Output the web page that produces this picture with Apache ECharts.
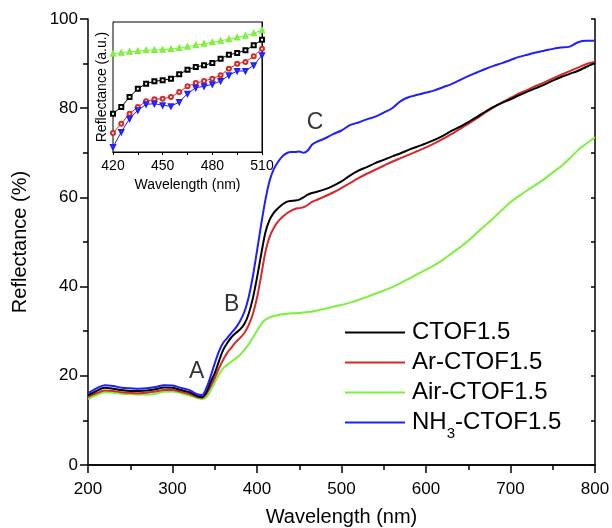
<!DOCTYPE html>
<html><head><meta charset="utf-8">
<script src="https://cdn.jsdelivr.net/npm/echarts@6/dist/echarts.min.js"></script>
<style>html,body{margin:0;padding:0;background:#fff}#c{width:612px;height:528px}</style>
</head><body><div id="c"></div>
<script>
const wavelength = [200,210,220,230,240,250,260,270,280,290,300,310,320,330,
 335,340,345,350,355,360,365,370,375,380,385,390,395,400,405,410,415,420,425,430,435,440,445,450,455,460,465,470,
 480,490,500,510,520,530,540,550,560,570,580,590,600,610,620,630,640,650,660,670,680,690,700,710,720,730,740,750,760,770,780,790,800];
const ctof = [15.6,16.6,17.3,17.1,16.8,16.6,16.6,16.7,17.0,17.4,17.3,16.8,16.3,15.4,
 15.2,16.3,18.5,20.6,23.3,25.8,27.4,28.7,29.6,30.4,31.6,33.8,37.3,42.0,47.3,52.2,55.0,56.6,57.6,58.4,59.0,59.2,59.3,59.5,60.0,60.6,61.0,61.2,
 61.8,62.6,63.6,64.9,66.0,66.8,67.7,68.4,69.2,69.9,70.7,71.4,72.1,72.9,73.8,74.9,75.8,76.9,78.0,79.2,80.3,81.2,82.0,82.9,83.7,84.5,85.3,86.2,87.0,87.7,88.4,89.3,90.1];
const arCtof = [15.2,16.1,16.7,16.6,16.3,16.2,16.1,16.2,16.5,16.8,16.8,16.4,15.9,15.2,
 15.1,15.9,17.6,19.5,21.7,23.6,25.2,26.4,27.6,28.5,29.6,31.3,33.8,37.5,42.5,47.8,51.2,53.2,54.6,55.6,56.4,57.0,57.4,57.6,57.8,58.3,59.0,59.4,
 60.2,61.1,62.1,63.2,64.3,65.3,66.2,67.1,68.0,68.8,69.6,70.4,71.2,72.1,73.1,74.2,75.3,76.5,77.7,79.0,80.2,81.3,82.3,83.3,84.1,85.0,85.8,86.7,87.5,88.3,89.1,89.9,90.4];
const airCtof = [14.8,15.7,16.3,16.2,16.0,15.9,15.8,15.8,16.0,16.4,16.5,16.1,15.6,15.0,
 14.8,15.2,16.6,18.5,20.3,21.7,22.5,23.2,23.9,24.7,25.8,27.0,28.5,30.1,31.6,32.6,33.1,33.4,33.6,33.8,33.9,34.0,34.0,34.1,34.2,34.3,34.4,34.6,
 35.0,35.5,35.9,36.4,37.0,37.7,38.4,39.1,39.9,40.8,41.8,42.8,43.8,44.8,46.0,47.4,48.8,50.3,52.0,53.7,55.4,57.2,58.9,60.3,61.6,62.8,64.1,65.6,67.0,68.7,70.6,72.1,73.5];
const nh3Ctof = [16.1,17.2,17.9,17.7,17.3,17.2,17.1,17.2,17.5,17.9,17.8,17.3,16.8,15.8,
 15.7,17.2,19.8,22.8,25.5,27.4,28.5,29.7,30.8,32.3,34.3,37.5,42.2,48.0,54.0,59.5,63.8,66.4,68.0,69.2,69.9,70.2,70.2,70.3,70.0,70.5,71.8,72.4,
 73.2,74.2,75.0,76.2,76.8,77.5,78.1,79.0,80.0,81.6,82.5,83.0,83.5,84.0,84.7,85.4,86.3,87.2,88.0,88.8,89.5,90.1,90.8,91.5,92.0,92.5,92.9,93.3,93.6,93.8,94.8,95.1,95.1];

const insetWl = [420,425,430,435,440,445,450,455,460,465,470,475,480,485,490,495,500,505,510];
const insetCtof = [38.3,45,55,63.3,68.3,70.7,71.7,73.3,77.7,82.3,85,86.7,89,93.3,97.3,99,101.7,106.7,112.3];
const insetAr = [19,28.3,38.3,45,50.7,52.7,53.3,55,60,65.7,69,71,73.3,76.7,83.3,88.3,90,95.7,103.3];
const insetAir = [98.3,99.3,100.3,101,101.7,102,102.3,103,104,105.3,106.7,108.2,109.7,111.2,112.7,114.5,116.3,118.8,121.7];
const insetNh3 = [5,20,33.3,41.7,47.7,48.3,46.7,45.7,50,58.3,64.3,65.7,67.7,71,76.7,81,81,86.7,96.7];

const seriesNames = ['CTOF1.5','Ar-CTOF1.5','Air-CTOF1.5','NH3-CTOF1.5'];
const annotX = [328.6, 370, 468.6];
const annotY = [20.9, 35.9, 76.7];
const annotText = ['A','B','C'];

const FONT = 'Liberation Sans, Arial, sans-serif';
const colors = ['#000000','#d42a2a','#7cf03a','#1e1eff'];
const zip = (xs, ys) => xs.map((x,i)=>[x, ys[i]]);
const mainData = [ctof, arCtof, airCtof, nh3Ctof];
const insetData = [insetCtof, insetAr, insetAir, insetNh3];
const insetSymbols = ['emptyRect','emptyCircle','emptyTriangle','emptyTriangle'];
const zOrder = [3,2,1,4];

const series = [];
mainData.forEach((d,i)=>{
  series.push({name: seriesNames[i], type:'line', xAxisIndex:0, yAxisIndex:0,
    data: zip(wavelength, d), symbol:'none', showSymbol:false, smooth:0.3,
    lineStyle:{color:colors[i], width:2}, itemStyle:{color:colors[i]}, z: zOrder[i]});
});
insetData.forEach((d,i)=>{
  series.push({name: 'inset-'+seriesNames[i], type:'line', xAxisIndex:2, yAxisIndex:2,
    data: zip(insetWl, d), symbol: insetSymbols[i], symbolSize:4, symbolRotate: i===3?180:0,
    showSymbol:true, lineStyle:{color:colors[i], width:1}, itemStyle:{color:colors[i], borderWidth:1}, z: 10+zOrder[i]});
});
series.push({type:'scatter', xAxisIndex:0, yAxisIndex:0, symbolSize:0, z:20,
  data: annotX.map((x,i)=>[x, annotY[i], annotText[i]]),
  label:{show:true, position:'inside', formatter: p=>p.data[2], color:'#000', fontSize:23, fontFamily:FONT}});

const axisLineStyle = {lineStyle:{color:'#000', width:1.5}};
const chart = echarts.init(document.getElementById('c'), null, {renderer:'canvas'});
chart.setOption({
  animation:false,
  backgroundColor:'#fff',
  textStyle:{fontFamily:FONT},
  grid:[
    {left:88, right:17, top:19, bottom:63, outerBoundsMode:'none', containLabel:false},
    {left:113, top:22, width:149, height:130, show:true, backgroundColor:'#fff', borderColor:'#000', borderWidth:1, z:5, outerBoundsMode:'none', containLabel:false}
  ],
  legend:{
    data: seriesNames.map((n,i)=>({name:n, itemStyle:{color:colors[i]}})),
    orient:'vertical', left:345, top:320, padding:0, icon:'rect', itemWidth:60, itemHeight:2, itemGap:5,
    textStyle:{fontSize:24, color:'#000', fontFamily:FONT, lineHeight:25, padding:[0,0,0,2],
      rich:{sub:{fontSize:15, fontFamily:FONT, color:'#000', padding:[22,0,0,0]}}},
    formatter: n => n==='NH3-CTOF1.5' ? 'NH{sub|3}-CTOF1.5' : n
  },
  xAxis:[
    {gridIndex:0, type:'value', min:200, max:800, interval:100, position:'bottom',
     name:'Wavelength (nm)', nameLocation:'middle', nameGap:42,
     nameTextStyle:{fontSize:20, color:'#000', fontFamily:FONT},
     axisLine:axisLineStyle, axisTick:{show:true, length:8, lineStyle:{color:'#000', width:1.5}},
     minorTick:{show:true, splitNumber:2, length:5, lineStyle:{color:'#000', width:1.5}},
     axisLabel:{fontSize:17, color:'#000', margin:16, fontFamily:FONT}, splitLine:{show:false}},
    {gridIndex:0, type:'value', min:200, max:800, interval:100, position:'top',
     axisLine:axisLineStyle, axisTick:{show:false}, axisLabel:{show:false}, splitLine:{show:false}},
    {gridIndex:1, type:'value', min:420, max:510, interval:15, position:'bottom',
     name:'Wavelength (nm)', nameLocation:'middle', nameGap:26,
     nameTextStyle:{fontSize:14, color:'#000', fontFamily:FONT},
     axisLine:{lineStyle:{color:'#000', width:1}}, axisTick:{show:true, inside:true, length:3, lineStyle:{color:'#000'}},
     axisLabel:{fontSize:14, color:'#000', margin:7, fontFamily:FONT, formatter: v => ((v-420)%30===0 ? String(v) : '')},
     splitLine:{show:false}},
    {gridIndex:1, type:'value', min:420, max:510, interval:15, position:'top',
     axisLine:{lineStyle:{color:'#000', width:1}}, axisTick:{show:true, inside:true, length:3, lineStyle:{color:'#000'}},
     axisLabel:{show:false}, splitLine:{show:false}}
  ],
  yAxis:[
    {gridIndex:0, type:'value', min:0, max:100, interval:20, position:'left',
     name:'Reflectance (%)', nameLocation:'middle', nameGap:58,
     nameTextStyle:{fontSize:20, color:'#000', fontFamily:FONT},
     axisLine:axisLineStyle, axisTick:{show:true, length:8, lineStyle:{color:'#000', width:1.5}},
     minorTick:{show:true, splitNumber:2, length:5, lineStyle:{color:'#000', width:1.5}},
     axisLabel:{fontSize:17, color:'#000', margin:10, fontFamily:FONT}, splitLine:{show:false}},
    {gridIndex:0, type:'value', min:0, max:100, interval:10, position:'right',
     axisLine:axisLineStyle, axisTick:{show:true, inside:true, length:4, lineStyle:{color:'#000', width:1.5}},
     axisLabel:{show:false}, splitLine:{show:false}},
    {gridIndex:1, type:'value', min:0, max:130, position:'left',
     name:'Reflectance (a.u.)', nameLocation:'middle', nameGap:4,
     nameTextStyle:{fontSize:14, color:'#000', fontFamily:FONT},
     axisLine:{lineStyle:{color:'#000', width:1}},
     axisTick:{show:true, inside:true, length:3, customValues:[28,70,110], lineStyle:{color:'#000'}},
     axisLabel:{show:false}, splitLine:{show:false}},
    {gridIndex:1, type:'value', min:0, max:130, position:'right',
     axisLine:{lineStyle:{color:'#000', width:1}},
     axisTick:{show:true, inside:true, length:3, customValues:[28,70,110], lineStyle:{color:'#000'}},
     axisLabel:{show:false}, splitLine:{show:false}}
  ],
  series: series
});
</script></body></html>
